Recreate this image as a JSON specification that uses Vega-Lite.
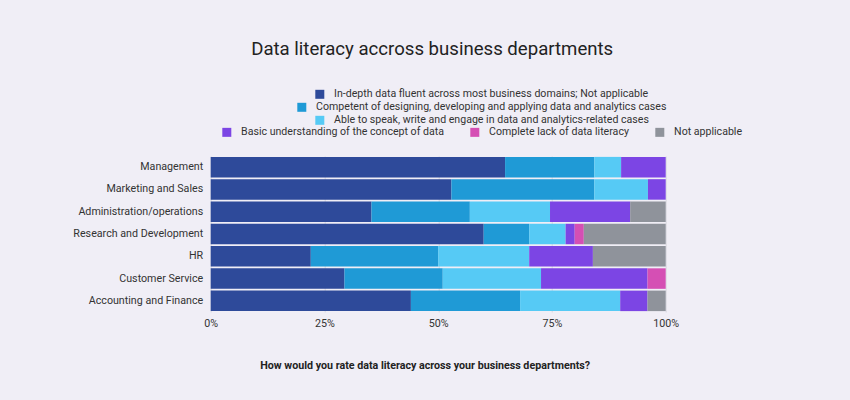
{
  "$schema": "https://vega.github.io/schema/vega-lite/v6.json",
  "width": 455,
  "height": 156,
  "autosize": {"type": "none"},
  "padding": {"left": 210.7, "top": 156, "right": 184.3, "bottom": 88},
  "background": "#f0eef6",
  "title": {
    "text": "Data literacy accross business departments",
    "font": "Roboto",
    "fontSize": 18.6,
    "fontWeight": "normal",
    "color": "#222222",
    "anchor": "middle",
    "frame": "group",
    "dx": -6,
    "offset": 30
  },
  "data": {
    "values": [
      {"dept": "Management", "cat": "In-depth data fluent across most business domains; Not applicable", "value": 64.7},
      {"dept": "Management", "cat": "Competent of designing, developing and applying data and analytics cases", "value": 19.6},
      {"dept": "Management", "cat": "Able to speak, write and engage in data and analytics-related cases", "value": 5.9},
      {"dept": "Management", "cat": "Basic understanding of the concept of data", "value": 9.8},
      {"dept": "Marketing and Sales", "cat": "In-depth data fluent across most business domains; Not applicable", "value": 52.9},
      {"dept": "Marketing and Sales", "cat": "Competent of designing, developing and applying data and analytics cases", "value": 31.4},
      {"dept": "Marketing and Sales", "cat": "Able to speak, write and engage in data and analytics-related cases", "value": 11.8},
      {"dept": "Marketing and Sales", "cat": "Basic understanding of the concept of data", "value": 3.9},
      {"dept": "Administration/operations", "cat": "In-depth data fluent across most business domains; Not applicable", "value": 35.3},
      {"dept": "Administration/operations", "cat": "Competent of designing, developing and applying data and analytics cases", "value": 21.6},
      {"dept": "Administration/operations", "cat": "Able to speak, write and engage in data and analytics-related cases", "value": 17.6},
      {"dept": "Administration/operations", "cat": "Basic understanding of the concept of data", "value": 17.6},
      {"dept": "Administration/operations", "cat": "Not applicable", "value": 7.8},
      {"dept": "Research and Development", "cat": "In-depth data fluent across most business domains; Not applicable", "value": 60},
      {"dept": "Research and Development", "cat": "Competent of designing, developing and applying data and analytics cases", "value": 10},
      {"dept": "Research and Development", "cat": "Able to speak, write and engage in data and analytics-related cases", "value": 8},
      {"dept": "Research and Development", "cat": "Basic understanding of the concept of data", "value": 2},
      {"dept": "Research and Development", "cat": "Complete lack of data literacy", "value": 2},
      {"dept": "Research and Development", "cat": "Not applicable", "value": 18},
      {"dept": "HR", "cat": "In-depth data fluent across most business domains; Not applicable", "value": 22},
      {"dept": "HR", "cat": "Competent of designing, developing and applying data and analytics cases", "value": 28},
      {"dept": "HR", "cat": "Able to speak, write and engage in data and analytics-related cases", "value": 20},
      {"dept": "HR", "cat": "Basic understanding of the concept of data", "value": 14},
      {"dept": "HR", "cat": "Not applicable", "value": 16},
      {"dept": "Customer Service", "cat": "In-depth data fluent across most business domains; Not applicable", "value": 29.4},
      {"dept": "Customer Service", "cat": "Competent of designing, developing and applying data and analytics cases", "value": 21.6},
      {"dept": "Customer Service", "cat": "Able to speak, write and engage in data and analytics-related cases", "value": 21.6},
      {"dept": "Customer Service", "cat": "Basic understanding of the concept of data", "value": 23.4},
      {"dept": "Customer Service", "cat": "Complete lack of data literacy", "value": 4},
      {"dept": "Accounting and Finance", "cat": "In-depth data fluent across most business domains; Not applicable", "value": 44},
      {"dept": "Accounting and Finance", "cat": "Competent of designing, developing and applying data and analytics cases", "value": 24},
      {"dept": "Accounting and Finance", "cat": "Able to speak, write and engage in data and analytics-related cases", "value": 22},
      {"dept": "Accounting and Finance", "cat": "Basic understanding of the concept of data", "value": 6},
      {"dept": "Accounting and Finance", "cat": "Not applicable", "value": 4}
    ]
  },
  "transform": [
    {"stack": "value", "groupby": ["dept"], "as": ["x0", "x1"], "offset": "normalize"}
  ],
  "encoding": {
    "y": {
      "field": "dept",
      "type": "nominal",
      "sort": ["Management", "Marketing and Sales", "Administration/operations", "Research and Development", "HR", "Customer Service", "Accounting and Finance"],
      "scale": {"paddingInner": 0.08, "paddingOuter": 0.04},
      "axis": {"title": null, "domain": false, "ticks": false, "grid": false, "labelPadding": 8, "labelFontSize": 10.7, "labelColor": "#333333", "labelFont": "Roboto", "labelLimit": 300}
    },
    "x": {
      "field": "x0",
      "type": "quantitative",
      "scale": {"domain": [0, 1], "nice": false},
      "axis": {
        "title": "How would you rate data literacy across your business departments?",
        "titleFont": "Roboto",
        "titleFontSize": 10.7,
        "titleFontWeight": "bold",
        "titleColor": "#222222",
        "titlePadding": 33,
        "titleX": 214,
        "values": [0, 0.25, 0.5, 0.75, 1],
        "format": ".0%",
        "labelFlush": false,
        "labelFont": "Roboto",
        "labelFontSize": 10.7,
        "labelColor": "#333333",
        "labelPadding": 6,
        "domain": false,
        "ticks": false,
        "grid": true,
        "gridColor": "#d8d8e0"
      }
    },
    "x2": {"field": "x1"}
  },
  "layer": [
    {
      "transform": [{"filter": "datum.cat === 'In-depth data fluent across most business domains; Not applicable'"}],
      "mark": {"type": "bar"},
      "encoding": {
        "color": {
          "field": "cat", "type": "nominal",
          "scale": {"range": ["#2e4a9a"]},
          "legend": {"orient": "none", "legendX": 103.8, "legendY": -67}
        }
      }
    },
    {
      "transform": [{"filter": "datum.cat === 'Competent of designing, developing and applying data and analytics cases'"}],
      "mark": {"type": "bar"},
      "encoding": {
        "color": {
          "field": "cat", "type": "nominal",
          "scale": {"range": ["#1f9ad6"]},
          "legend": {"orient": "none", "legendX": 85.8, "legendY": -54}
        }
      }
    },
    {
      "transform": [{"filter": "datum.cat === 'Able to speak, write and engage in data and analytics-related cases'"}],
      "mark": {"type": "bar"},
      "encoding": {
        "color": {
          "field": "cat", "type": "nominal",
          "scale": {"range": ["#56caf5"]},
          "legend": {"orient": "none", "legendX": 103.8, "legendY": -41}
        }
      }
    },
    {
      "transform": [{"filter": "datum.cat === 'Basic understanding of the concept of data' || datum.cat === 'Complete lack of data literacy' || datum.cat === 'Not applicable'"}],
      "mark": {"type": "bar"},
      "encoding": {
        "color": {
          "field": "cat", "type": "nominal",
          "scale": {"domain": ["Basic understanding of the concept of data", "Complete lack of data literacy", "Not applicable"], "range": ["#7c45e4", "#d54fb4", "#8f939b"]},
          "legend": {"orient": "none", "legendX": 10.8, "legendY": -29, "direction": "horizontal", "columnPadding": 25}
        }
      }
    }
  ],
  "resolve": {"scale": {"color": "independent"}, "legend": {"color": "independent"}},
  "config": {
    "font": "Roboto",
    "view": {"stroke": null},
    "legend": {
      "title": null,
      "symbolType": "square",
      "symbolSize": 81,
      "symbolStrokeWidth": 0,
      "labelFont": "Roboto",
      "labelFontSize": 10.6,
      "labelColor": "#333333",
      "labelOffset": 9,
      "labelLimit": 600,
      "padding": 0
    }
  }
}
